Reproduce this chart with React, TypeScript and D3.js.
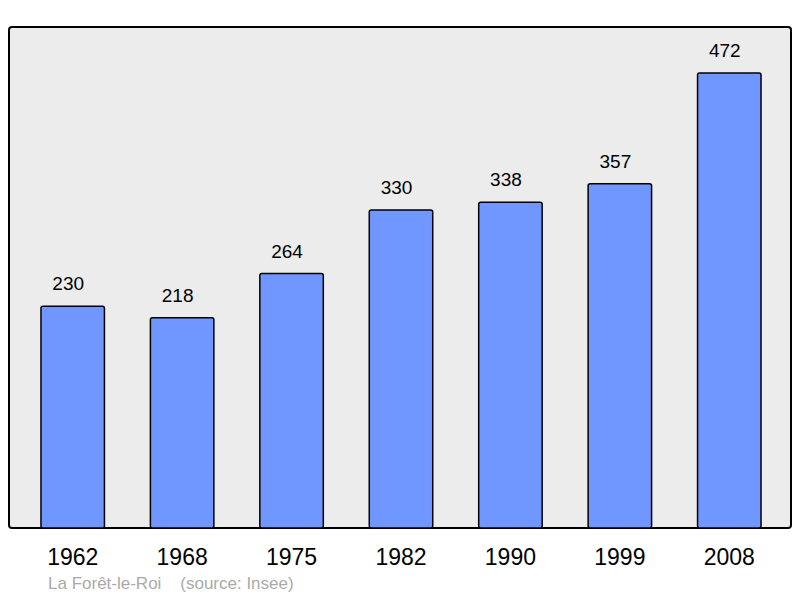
import React from "react";
import * as d3 from "d3";

const years = ["1962", "1968", "1975", "1982", "1990", "1999", "2008"];
const population = [230, 218, 264, 330, 338, 357, 472];
const caption = "La Forêt-le-Roi    (source: Insee)";

export default function App() {
  const W = 800, H = 598;
  const plot = { left: 9, top: 27, right: 791, bottom: 528 };
  const x = d3.scaleBand<string>().domain(years).range([18, 784]).paddingInner(0.42).paddingOuter(0.21);
  const y = d3.scaleLinear().domain([0, 472]).range([528, 73]);
  const bw = x.bandwidth();
  return (
    <svg width={W} height={H} style={{ position: "absolute", left: 0, top: 0 }} fontFamily="'Liberation Sans', Arial, sans-serif">
      <rect x={plot.left} y={plot.top} width={plot.right - plot.left} height={plot.bottom - plot.top} rx={3} fill="#ececec" stroke="#000" strokeWidth={2} />
      {population.map((v, i) => {
        const cx = (x(years[i]) as number) + bw / 2;
        return (
          <g key={years[i]}>
            <rect x={x(years[i])} y={y(v)} width={bw} height={y(0) - y(v)} rx={2} fill="#7097ff" stroke="#000" strokeWidth={1.5} />
            <text x={cx - 4.5} y={y(v) - 16} textAnchor="middle" fontSize={19} fill="#000">{v}</text>
            <text x={cx} y={565} textAnchor="middle" fontSize={23} fill="#000">{years[i]}</text>
          </g>
        );
      })}
      <text x={48} y={589} fontSize={17} fill="#aaaaaa" style={{ whiteSpace: "pre" }}>{caption}</text>
    </svg>
  );
}
